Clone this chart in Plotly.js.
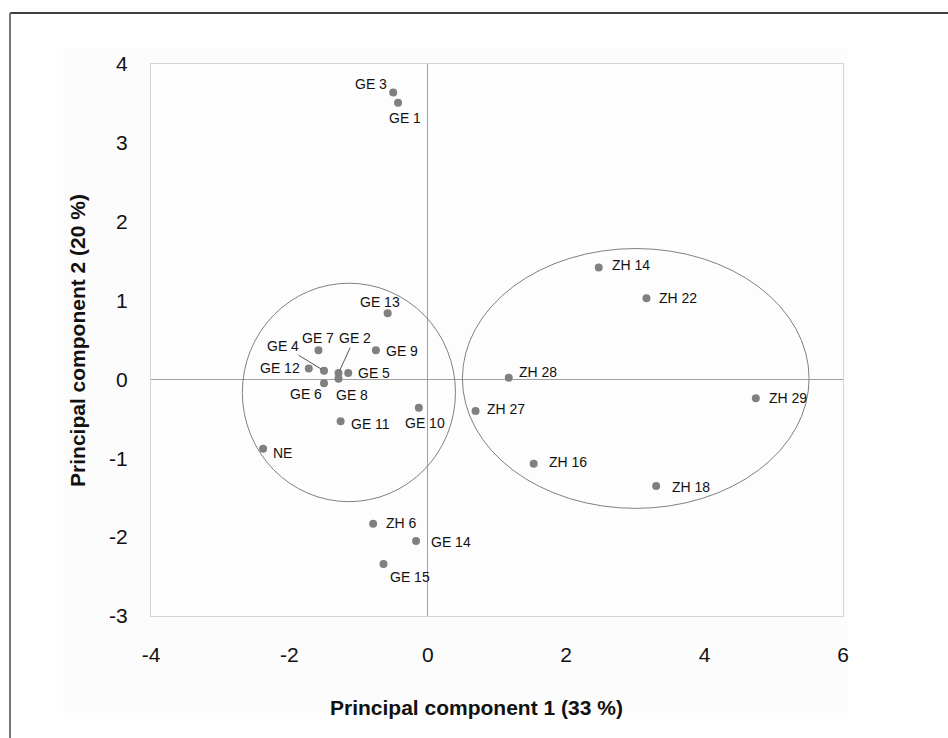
<!DOCTYPE html>
<html>
<head>
<meta charset="utf-8">
<script src="https://cdn.plot.ly/plotly-3.0.1.min.js"></script>
<style>html,body{margin:0;padding:0;background:#fff;}#chart{width:948px;height:738px;}</style>
</head>
<body>
<div id="chart"></div>
<script>
// Data
const names = ["GE 3","GE 1","GE 13","GE 7","GE 4","GE 12","GE 2","GE 5","GE 8","GE 6","GE 9","GE 11","GE 10","NE","ZH 6","GE 14","GE 15","ZH 14","ZH 22","ZH 28","ZH 27","ZH 29","ZH 16","ZH 18"];
const pc1 = [-0.50,-0.43,-0.58,-1.58,-1.50,-1.72,-1.29,-1.15,-1.29,-1.50,-0.75,-1.26,-0.13,-2.38,-0.79,-0.17,-0.64,2.47,3.16,1.17,0.69,4.74,1.53,3.30];
const pc2 = [3.64,3.51,0.84,0.37,0.11,0.14,0.08,0.08,0.01,-0.05,0.37,-0.53,-0.36,-0.88,-1.83,-2.05,-2.34,1.42,1.03,0.02,-0.40,-0.24,-1.07,-1.35];
const xTicks = [-4,-2,0,2,4,6];
const yTicks = [-3,-2,-1,0,1,2,3,4];

// Label placement (style): [xanchor, xshift, yshift, arrow ax, arrow ay]
const labelStyle = {
  "GE 3":["right",-4,8], "GE 1":["center",7,-15], "GE 13":["center",-8,11],
  "GE 7":["center",0,12], "GE 4":["arrow",0,0,-41,-25], "GE 12":["right",-7,0],
  "GE 2":["arrow",0,0,16,-35], "GE 5":["left",8,0], "GE 8":["center",13,-16],
  "GE 6":["center",-18,-11], "GE 9":["left",8,-1], "GE 11":["left",8,-3],
  "GE 10":["center",6,-15], "NE":["left",8,-4], "ZH 6":["left",11,1],
  "GE 14":["left",13,-1], "GE 15":["left",4,-13], "ZH 14":["left",11,2],
  "ZH 22":["left",11,0], "ZH 28":["left",8,6], "ZH 27":["left",9,2],
  "ZH 29":["left",11,0], "ZH 16":["left",13,2], "ZH 18":["left",14,-1]
};

const font = "'Liberation Sans', Arial, sans-serif";
const annotations = names.map((n,i)=>{
  const s = labelStyle[n];
  const base = {x:pc1[i], y:pc2[i], xref:'x', yref:'y', text:n,
    font:{family:font, size:14, color:'#111'}};
  if (s[0]==='arrow') {
    return Object.assign(base,{showarrow:true, arrowhead:0, arrowwidth:1, arrowcolor:'#555',
      ax:s[3], ay:s[4], standoff:3});
  }
  return Object.assign(base,{showarrow:false, xanchor:s[0], yanchor:'middle', xshift:s[1], yshift:s[2]});
});

// axis titles
annotations.push({xref:'paper', yref:'paper', x:0.4697, y:-0.165, text:'<b>Principal component 1 (33 %)</b>',
  showarrow:false, xanchor:'center', yanchor:'middle', font:{family:font,size:21,color:'#111'}});
annotations.push({xref:'paper', yref:'paper', x:-0.107, y:0.5, text:'<b>Principal component 2 (20 %)</b>',
  showarrow:false, textangle:-90, xanchor:'center', yanchor:'middle', font:{family:font,size:21,color:'#111'}});

const px = v => (v-151)/692, py = v => (616-v)/552;

const shapes = [
  {type:'rect', xref:'paper', yref:'paper', x0:px(63), x1:px(848), y0:py(713), y1:py(49),
    fillcolor:'#fcfcfc', line:{width:0}, layer:'below'},
  {type:'rect', xref:'paper', yref:'paper', x0:0, x1:1, y0:0, y1:1,
    fillcolor:'#fdfdfd', line:{width:0}, layer:'below'},
  {type:'line', xref:'paper', yref:'paper', x0:px(10), x1:px(960), y0:py(13), y1:py(13),
    line:{color:'#000', width:1.5}},
  {type:'line', xref:'paper', yref:'paper', x0:px(10), x1:px(10), y0:py(13), y1:py(740),
    line:{color:'#777', width:2}},
  {type:'circle', xref:'x', yref:'y', x0:-2.68, x1:0.40, y0:-1.55, y1:1.22,
    line:{color:'#808080', width:1}},
  {type:'circle', xref:'x', yref:'y', x0:0.50, x1:5.51, y0:-1.635, y1:1.66,
    line:{color:'#808080', width:1}}
];

const trace = {x:pc1, y:pc2, mode:'markers', type:'scatter', text:names,
  marker:{color:'#808080', size:8}, hoverinfo:'text', cliponaxis:false};

const layout = {
  width:948, height:738,
  margin:{l:151, r:105, t:64, b:122},
  paper_bgcolor:'#ffffff', plot_bgcolor:'rgba(0,0,0,0)',
  showlegend:false,
  font:{family:font, color:'#111'},
  xaxis:{range:[-4,6], tickvals:xTicks, ticktext:xTicks.map(String), showgrid:false,
    zeroline:true, zerolinecolor:'#a0a0a0', zerolinewidth:1,
    showline:true, mirror:true, linecolor:'#d4d4d4', linewidth:1,
    ticks:'', ticklabelstandoff:20, tickfont:{family:font,size:21,color:'#111'}},
  yaxis:{range:[-3,4], tickvals:yTicks, ticktext:yTicks.map(String), showgrid:false,
    zeroline:true, zerolinecolor:'#a0a0a0', zerolinewidth:1,
    showline:true, mirror:true, linecolor:'#d4d4d4', linewidth:1,
    ticks:'', ticklabelstandoff:18, tickfont:{family:font,size:21,color:'#111'}},
  annotations:annotations, shapes:shapes
};

Plotly.newPlot('chart',[trace],layout,{staticPlot:true, displayModeBar:false});
</script>
</body>
</html>
